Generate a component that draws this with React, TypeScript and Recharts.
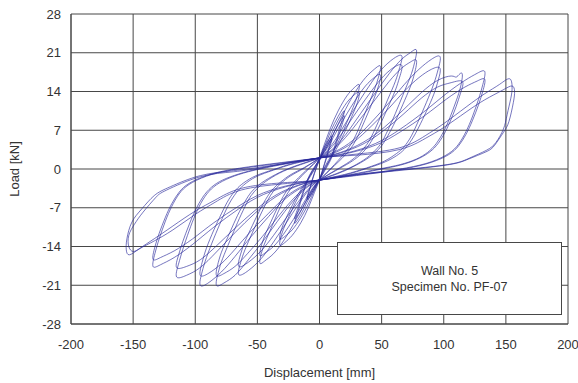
import { ScatterChart, Scatter, XAxis, YAxis, CartesianGrid } from 'recharts';

type Pt = [number, number];

// displacement [mm], load [kN], one array per amplitude level (two laps each)
const cycle10: Pt[] = [
  [0, 1.5], [3, 3.5], [6, 4.8], [10, 6], [8, 4.2], [6, 2.5], [4, 1], [2, -0.5], [0, -1.8],
  [-3, -3.2], [-6, -4.5], [-10, -5.5], [-8, -3.8], [-6, -2.2], [-4, -0.8], [-2, 0.5], [0, 1.6],
  [3, 3.2], [6, 4.4], [10, 5.5], [8, 3.8], [6, 2.2], [4, 0.8], [2, -0.6], [0, -1.7],
  [-3, -3], [-6, -4.2], [-10, -5.2], [-8, -3.6], [-6, -2], [-4, -0.6], [-2, 0.6], [0, 1.5],
];

const cycle20: Pt[] = [
  [0, 1.6], [5, 4], [10, 6.5], [15, 8.8], [20, 10.5], [17, 8], [14, 5.5], [11, 3.2], [8, 1.5], [4, -0.2], [0, -1.9],
  [-5, -3.8], [-10, -6], [-15, -8.2], [-20, -9.8], [-17, -7.4], [-14, -5], [-11, -3], [-8, -1.3], [-4, 0.3], [0, 1.8],
  [5, 3.6], [10, 5.8], [15, 8], [20, 9.6], [17, 7.2], [14, 4.9], [11, 2.8], [8, 1.2], [4, -0.4], [0, -1.9],
  [-5, -3.5], [-10, -5.5], [-15, -7.5], [-20, -9], [-17, -6.8], [-14, -4.6], [-11, -2.7], [-8, -1.1], [-4, 0.4], [0, 1.7],
];

const cycle32: Pt[] = [
  [0, 2], [4, 4.5], [9, 7.5], [15, 10.5], [22, 13.2], [28, 14.7], [32, 15.2],
  [30.5, 13.3], [27, 11.1], [22, 8.4], [17, 5.8], [12, 3.5], [7, 1.5], [3, -0.2], [0, -2],
  [-4, -4.2], [-9, -7], [-15, -9.7], [-22, -12], [-28, -13.3], [-32, -13.7],
  [-30.5, -11.8], [-27, -9.8], [-22, -7.3], [-17, -5], [-12, -3], [-7, -1.2], [-3, 0.4], [0, 2],
  [4, 4], [9, 6.8], [15, 9.5], [22, 12], [28, 13.4], [32, 13.8],
  [30.5, 12], [27, 10], [22, 7.5], [17, 5.1], [12, 3], [7, 1.2], [3, -0.4], [0, -2],
  [-4, -3.8], [-9, -6.3], [-15, -8.8], [-22, -11], [-28, -12.2], [-32, -12.6],
  [-30.5, -10.8], [-27, -8.9], [-22, -6.6], [-17, -4.5], [-12, -2.7], [-7, -1], [-3, 0.5], [0, 2],
];

const cycle48: Pt[] = [
  [0, 2], [6, 4], [13, 7.2], [21, 10.8], [29, 14], [37, 16.5], [44, 18], [49, 18.6],
  [47.5, 16.6], [44, 14.2], [39, 11.4], [34, 8.6], [29, 6], [24, 4], [18, 2.3], [12, 0.8], [6, -0.6], [0, -2],
  [-6, -3.8], [-13, -6.7], [-21, -10], [-29, -13], [-37, -15.3], [-44, -16.6], [-48, -17],
  [-46.5, -15], [-43, -12.8], [-38, -10.2], [-33, -7.6], [-28, -5.3], [-23, -3.5], [-17, -1.9], [-11, -0.5], [-5, 0.8], [0, 2],
  [6, 3.7], [13, 6.5], [21, 9.6], [29, 12.5], [37, 15], [44, 16.5], [49, 17],
  [47.5, 15], [44, 12.8], [39, 10.1], [34, 7.5], [29, 5.1], [24, 3.4], [18, 1.9], [12, 0.6], [6, -0.7], [0, -2],
  [-6, -3.6], [-13, -6.2], [-21, -9.1], [-29, -11.8], [-37, -14], [-44, -15.2], [-48, -15.6],
  [-46.5, -13.6], [-43, -11.5], [-38, -9], [-33, -6.6], [-28, -4.5], [-23, -3], [-17, -1.6], [-11, -0.3], [-5, 0.9], [0, 2],
];

const cycle65: Pt[] = [
  [0, 2], [8, 3.8], [17, 6.8], [27, 10.5], [37, 14], [47, 17.2], [57, 19.5], [66, 20.5],
  [64.5, 18.3], [61, 15.8], [55, 12.6], [49, 9.4], [43, 6.4], [38, 4.4], [32, 2.8], [24, 1.3], [13, -0.2], [0, -2],
  [-8, -3.6], [-17, -6.4], [-27, -9.8], [-37, -13.2], [-47, -16.2], [-57, -18.3], [-65, -19.1],
  [-63.5, -16.9], [-60, -14.6], [-54, -11.5], [-48, -8.5], [-42, -5.8], [-37, -4], [-31, -2.6], [-23, -1.2], [-12, 0.2], [0, 2],
  [8, 3.5], [17, 6.1], [27, 9.4], [37, 12.6], [47, 15.6], [57, 17.9], [66, 18.8],
  [64.5, 16.6], [61, 14.2], [55, 11.1], [49, 8.1], [43, 5.5], [38, 3.8], [32, 2.4], [24, 1.1], [13, -0.3], [0, -2],
  [-8, -3.4], [-17, -5.9], [-27, -8.9], [-37, -12], [-47, -14.8], [-57, -16.8], [-65, -17.6],
  [-63.5, -15.4], [-60, -13.1], [-54, -10.2], [-48, -7.4], [-42, -5], [-37, -3.5], [-31, -2.3], [-23, -1], [-12, 0.3], [0, 2],
];

const cycle80: Pt[] = [
  [0, 2], [10, 3.5], [21, 6.2], [33, 10], [45, 13.8], [56, 17.2], [66, 19.8], [73, 21], [78, 21.5],
  [76.5, 19.2], [73, 16.6], [67, 13.3], [61, 10], [55, 7], [50, 4.8], [45, 3.4], [38, 2], [27, 0.5], [14, -0.8], [0, -2],
  [-11, -3.5], [-22, -6], [-34, -9.5], [-46, -13.2], [-58, -16.6], [-68, -19.2], [-77, -20.6], [-83, -21],
  [-81.5, -18.7], [-78, -16.2], [-72, -12.9], [-66, -9.7], [-60, -6.8], [-55, -4.8], [-49, -3.3], [-41, -1.9], [-29, -0.4], [-15, 0.8], [0, 2],
  [10, 3.3], [21, 5.7], [33, 9.1], [45, 12.6], [56, 15.8], [66, 18.2], [73, 19.3], [78, 19.6],
  [76.5, 17.3], [73, 14.8], [67, 11.6], [61, 8.6], [55, 6], [50, 4.2], [45, 3], [38, 1.8], [27, 0.4], [14, -0.9], [0, -2],
  [-11, -3.3], [-22, -5.6], [-34, -8.8], [-46, -12.2], [-58, -15.3], [-68, -17.6], [-77, -18.9], [-83, -19.2],
  [-81.5, -16.9], [-78, -14.5], [-72, -11.4], [-66, -8.4], [-60, -5.9], [-55, -4.2], [-49, -2.9], [-41, -1.7], [-29, -0.3], [-15, 0.9], [0, 2],
];

const cycle97: Pt[] = [
  [0, 2], [13, 3.2], [27, 5.2], [42, 8.5], [56, 12], [68, 15.2], [80, 18], [90, 19.8], [97, 20.3],
  [95.5, 18], [92, 15.4], [86, 12], [80, 8.9], [74, 6], [68, 4], [62, 2.8], [52, 1.4], [38, 0.2], [20, -1], [0, -2],
  [-13, -3.2], [-27, -5.3], [-41, -8.6], [-55, -12.2], [-68, -15.8], [-79, -18.6], [-89, -20.5], [-96, -21],
  [-94.5, -18.6], [-91, -16], [-85, -12.5], [-79, -9.3], [-73, -6.4], [-67, -4.3], [-61, -2.9], [-51, -1.4], [-37, -0.2], [-20, 1], [0, 2],
  [13, 3], [27, 4.8], [42, 7.8], [56, 11], [68, 14], [80, 16.5], [90, 18], [97, 18.2],
  [95.5, 16], [92, 13.5], [86, 10.4], [80, 7.6], [74, 5.2], [68, 3.5], [62, 2.4], [52, 1.2], [38, 0.1], [20, -1.1], [0, -2],
  [-13, -3], [-27, -5], [-41, -8], [-55, -11.2], [-68, -14.5], [-79, -17.1], [-89, -18.8], [-96, -19.2],
  [-94.5, -16.9], [-91, -14.3], [-85, -11], [-79, -8.1], [-73, -5.5], [-67, -3.7], [-61, -2.5], [-51, -1.2], [-37, -0.1], [-20, 1.1], [0, 2],
];

const cycle115: Pt[] = [
  [0, 2], [17, 3], [35, 4.8], [52, 7.5], [68, 10.8], [82, 13.8], [95, 16], [106, 16.8], [110, 16.6], [113, 17.2], [115, 17],
  [113.5, 14.8], [110, 12.3], [105, 9.3], [100, 6.8], [94, 4.6], [87, 3], [78, 1.8], [65, 0.8], [48, 0], [25, -1], [0, -2],
  [-17, -3], [-35, -5], [-52, -8], [-68, -11.5], [-83, -15], [-96, -17.8], [-107, -19.2], [-115, -19.5],
  [-113.5, -17.2], [-110, -14.5], [-105, -11.2], [-100, -8.3], [-94, -5.6], [-87, -3.6], [-78, -2.2], [-65, -1], [-48, 0], [-25, 1], [0, 2],
  [17, 2.9], [35, 4.5], [52, 7], [68, 10], [82, 12.8], [95, 14.8], [106, 15.6], [115, 15.8],
  [113.5, 13.7], [110, 11.3], [105, 8.5], [100, 6.2], [94, 4.2], [87, 2.8], [78, 1.7], [65, 0.7], [48, -0.1], [25, -1.1], [0, -2],
  [-17, -2.9], [-35, -4.7], [-52, -7.5], [-68, -10.7], [-83, -13.9], [-96, -16.4], [-107, -17.6], [-115, -17.8],
  [-113.5, -15.6], [-110, -13.1], [-105, -10.1], [-100, -7.5], [-94, -5.1], [-87, -3.3], [-78, -2], [-65, -0.9], [-48, 0.1], [-25, 1.1], [0, 2],
];

const cycle135: Pt[] = [
  [0, 2], [22, 2.9], [45, 4.6], [65, 7.2], [85, 10.5], [102, 13.6], [117, 16], [127, 17.3], [133, 17.6],
  [131.5, 15.3], [128, 12.6], [123, 9.4], [118, 6.8], [112, 4.5], [104, 2.8], [90, 1.3], [70, 0.2], [40, -0.8], [0, -2],
  [-22, -2.9], [-45, -4.6], [-65, -7.2], [-85, -10.5], [-102, -13.6], [-117, -16], [-128, -17.3], [-134, -17.6],
  [-132.5, -15.3], [-129, -12.6], [-124, -9.4], [-119, -6.8], [-113, -4.5], [-105, -2.8], [-91, -1.3], [-71, -0.2], [-40, 0.8], [0, 2],
  [22, 2.8], [45, 4.3], [65, 6.7], [85, 9.7], [102, 12.6], [117, 14.8], [127, 15.9], [133, 16.2],
  [131.5, 14.1], [128, 11.6], [123, 8.7], [118, 6.3], [112, 4.2], [104, 2.6], [90, 1.2], [70, 0.1], [40, -0.9], [0, -2],
  [-22, -2.8], [-45, -4.3], [-65, -6.7], [-85, -9.7], [-102, -12.6], [-117, -14.8], [-128, -16], [-134, -16.3],
  [-132.5, -14.1], [-129, -11.6], [-124, -8.7], [-119, -6.3], [-113, -4.2], [-105, -2.6], [-91, -1.2], [-71, -0.1], [-40, 0.9], [0, 2],
];

const cycle155: Pt[] = [
  [0, 2], [30, 2.7], [64, 3.8], [85, 6], [100, 8.2], [118, 11.2], [133, 13.6], [145, 15.3], [153, 16.3],
  [155, 14.8], [154, 12.8], [151, 9.8], [148, 7.2], [142, 4.8], [134.5, 3.4], [121, 2], [108, 1], [81, 0.2], [45, -0.6], [20, -1.3], [0, -2],
  [-30, -2.7], [-63, -3.8], [-84, -6], [-100, -8.2], [-118, -11], [-133, -13], [-144, -14.3], [-150, -14.9],
  [-153.5, -14], [-153.5, -12], [-149, -10], [-142, -7.8], [-132, -5.2], [-123, -3.8], [-96, -1.4], [-69, -0.5], [-40, 0.5], [0, 2],
  [30, 2.5], [64, 3.5], [85, 5.5], [100, 7.5], [118, 10.3], [133, 12.5], [147, 14.2], [155, 15], [157, 14],
  [156, 12], [152.5, 8.6], [148, 6.6], [141, 4.3], [134, 3.1], [120, 1.8], [107, 0.9], [80, 0.1], [45, -0.7], [20, -1.3], [0, -2],
  [-30, -2.5], [-63, -3.5], [-84, -5.6], [-100, -7.6], [-118, -10.3], [-133, -12.6], [-145, -14.4], [-153, -15.5],
  [-155.5, -14.6], [-155, -12.6], [-151, -9.6], [-143, -7.2], [-133, -4.8], [-120, -3.2], [-96, -1.2], [-69, -0.3], [-40, 0.6], [0, 2],
];

const cycles = [cycle10, cycle20, cycle32, cycle48, cycle65, cycle80, cycle97, cycle115, cycle135, cycle155];

const xTicks = [-200, -150, -100, -50, 0, 50, 100, 150, 200];
const yTicks = [-28, -21, -14, -7, 0, 7, 14, 21, 28];

const toPoints = (c: Pt[]) => c.map(([x, y]) => ({ x, y }));

const GRID = '#474747';
const TEXT = '#333';
const TRACE = '#28289a';

export default function App() {
  return (
    <div
      style={{
        position: 'absolute',
        left: 0,
        top: 0,
        width: 578,
        height: 383,
        background: '#fff',
        fontFamily: '"Liberation Sans", Arial, sans-serif',
      }}
    >
      <ScatterChart width={578} height={383} margin={{ top: 14, right: 10, bottom: 0, left: 0 }}>
        <CartesianGrid stroke={GRID} strokeWidth={1} />
        <XAxis
          type="number"
          dataKey="x"
          domain={[-200, 200]}
          ticks={xTicks}
          allowDataOverflow
          height={59}
          tickLine={false}
          tickSize={0}
          tickMargin={16}
          axisLine={{ stroke: GRID }}
          tick={{ fill: TEXT, fontSize: 13 }}
          label={{ value: 'Displacement [mm]', position: 'insideBottom', offset: 6, fill: TEXT, fontSize: 13 }}
        />
        <YAxis
          type="number"
          dataKey="y"
          domain={[-28, 28]}
          ticks={yTicks}
          allowDataOverflow
          width={71}
          tickLine={false}
          tickSize={0}
          tickMargin={10}
          axisLine={{ stroke: GRID }}
          tick={{ fill: TEXT, fontSize: 13 }}
          label={{
            value: 'Load [kN]',
            angle: -90,
            position: 'insideLeft',
            offset: 14,
            fill: TEXT,
            fontSize: 13,
            style: { textAnchor: 'middle' },
          }}
        />
        {cycles.map((c, i) => (
          <Scatter
            key={i}
            data={toPoints(c)}
            line={{ stroke: TRACE, strokeWidth: 0.8, strokeOpacity: 0.8 }}
            lineJointType="natural"
            shape={() => <g />}
            isAnimationActive={false}
          />
        ))}
      </ScatterChart>
      <div
        style={{
          position: 'absolute',
          left: 337,
          top: 242,
          width: 225,
          height: 73,
          boxSizing: 'border-box',
          border: `1px solid ${GRID}`,
          background: '#fff',
          display: 'flex',
          flexDirection: 'column',
          alignItems: 'center',
          justifyContent: 'center',
          fontSize: 12.5,
          lineHeight: '16px',
          color: TEXT,
        }}
      >
        <div>Wall No. 5</div>
        <div>Specimen No. PF-07</div>
      </div>
    </div>
  );
}
